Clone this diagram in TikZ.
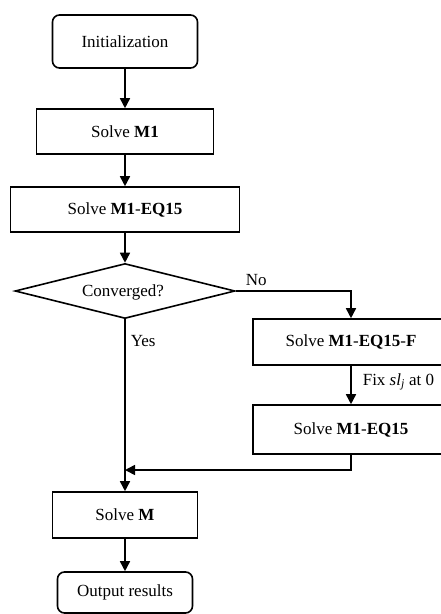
\documentclass[tikz,border=0pt]{standalone}
\usepackage{fontspec}
\setmainfont{Liberation Serif}
\usetikzlibrary{shapes.geometric,arrows.meta}

\begin{document}
\begin{tikzpicture}[x=1pt,y=-1pt,
  font=\fontsize{17}{20}\selectfont,
  every path/.style={line width=1.6pt},
  proc/.style={draw, rectangle, inner sep=0pt, line width=1.6pt},
  term/.style={proc, rounded corners=7pt},
  decide/.style={draw, diamond, aspect=4, inner sep=0pt, line width=1.6pt,
                 minimum width=220pt, minimum height=55pt},
  flow/.style={-{Triangle[length=10pt,width=10pt]}, line width=1.6pt},
  lbl/.style={inner sep=0pt}]
\useasboundingbox (0,0) rectangle (441,614);

% main column
\node[term, minimum width=145pt, minimum height=53pt] (init) at (125,41.5) {Initialization};
\node[proc, minimum width=177pt, minimum height=45pt] (m1) at (125,131.5) {Solve \textbf{M1}};
\node[proc, minimum width=229pt, minimum height=45pt] (eq) at (125,209.5) {Solve \textbf{M1}-\textbf{EQ15}};
\node[decide] (conv) at (125,291) {};
\node[lbl] (convtxt) at (123,292) {Converged?};
\node[proc, minimum width=145pt, minimum height=46pt] (solm) at (125,515) {Solve \textbf{M}};
\node[term, minimum width=135pt, minimum height=41pt] (out) at (125,592.5) {Output results};

% branch for the non-converged case
\node[proc, minimum width=196pt, minimum height=46pt] (eqf) at (351,342) {Solve \textbf{M1}-\textbf{EQ15}-\textbf{F}};
\node[proc, minimum width=196pt, minimum height=49pt] (eq2) at (351,429.5) {Solve \textbf{M1}-\textbf{EQ15}};
\coordinate (join) at (125,470);

% connectors
\draw[flow] (init) -- (m1);
\draw[flow] (m1) -- (eq);
\draw[flow] (eq.south) -- (conv.north);
\draw[flow] (conv.east) -| (eqf.north);
\draw[flow] (eqf) -- (eq2);
\draw (conv.south) -- (join);
\draw[flow] (join) -- (solm.north);
\draw[flow] (eq2.south) |- (join);
\draw[flow] (solm) -- (out);

% branch labels
\node[lbl, anchor=south west] (no) at (245,286) {No};
\node[lbl, anchor=west] (yes) at (130,341) {Yes};
\node[lbl, anchor=west] (fix) at (362,382) {Fix \textit{sl}\textsubscript{\textit{j}} at 0};
\end{tikzpicture}
\end{document}
